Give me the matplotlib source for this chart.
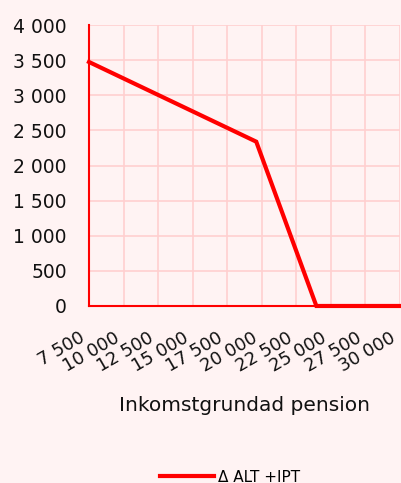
import matplotlib.pyplot as plt
import matplotlib.transforms as mtransforms
from matplotlib.ticker import FuncFormatter, MultipleLocator

plt.rcParams['font.family'] = ['DejaVu Sans']

# data
pension = [7500, 19600, 23950, 30000]
delta_alt_ipt = [3475, 2340, 0, 0]
x_ticks = [7500, 10000, 12500, 15000, 17500, 20000, 22500, 25000, 27500, 30000]

bg = '#fff3f3'
red = '#ff0000'
grid = '#ffd0d0'
txt = '#111111'

fig = plt.figure(figsize=(4.02, 4.83), dpi=100, facecolor=bg)
ax = fig.add_axes([0.2214, 0.3665, 0.7736, 0.5815], facecolor=bg)

ax.plot(pension, delta_alt_ipt, color=red, lw=3, label='Δ ALT +IPT',
        solid_joinstyle='miter', clip_on=False, zorder=3)

ax.set_xlim(7500, 30000)
ax.set_ylim(0, 4000)
ax.set_xticks(x_ticks)
ax.yaxis.set_major_locator(MultipleLocator(500))

fmt = FuncFormatter(lambda v, p: f'{int(v):,}'.replace(',', ' '))
ax.xaxis.set_major_formatter(fmt)
ax.yaxis.set_major_formatter(fmt)

ax.grid(True, color=grid, lw=1.2)
ax.set_axisbelow(True)
for s in ['top', 'right']:
    ax.spines[s].set_visible(False)
for s in ['left', 'bottom']:
    ax.spines[s].set_color(red)
    ax.spines[s].set_linewidth(1.5)

ax.tick_params(length=0, colors=txt)
ax.tick_params(axis='y', pad=16, labelsize=13.5)
ax.tick_params(axis='x', pad=22, labelsize=12.8)

# nudge rotated x labels a little left so the last one stays inside
shift = mtransforms.ScaledTranslation(-4 / 72, 0, fig.dpi_scale_trans)
for lbl in ax.get_xticklabels():
    lbl.set_rotation(30)
    lbl.set_ha('right')
    lbl.set_va('center')
    lbl.set_rotation_mode('anchor')
    lbl.set_transform(lbl.get_transform() + shift)

ax.set_xlabel('Inkomstgrundad pension', fontsize=14.5, color=txt, va='center')
ax.xaxis.set_label_coords(0.5, -0.356)

fig.legend(loc='center', bbox_to_anchor=(0.572, 0.0124), frameon=False,
           fontsize=11, handlelength=3.5, handletextpad=0.26)

fig.savefig('out.png', dpi=100, facecolor=bg)
